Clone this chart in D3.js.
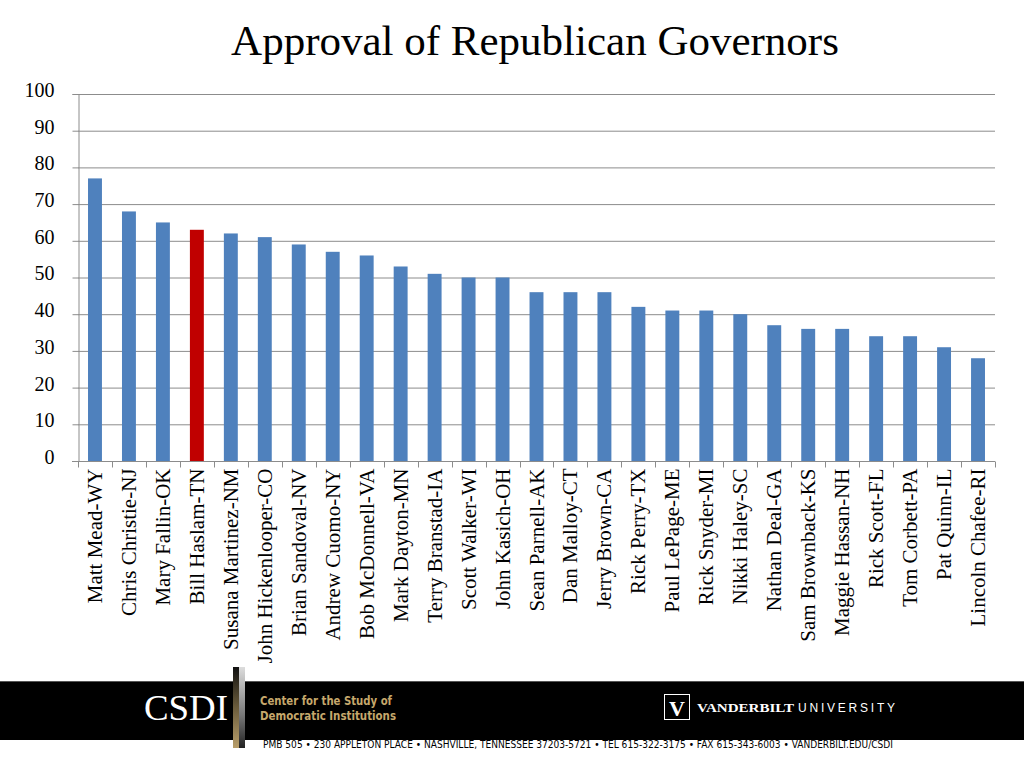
<!DOCTYPE html>
<html><head><meta charset="utf-8">
<script src="https://cdn.jsdelivr.net/npm/d3@7"></script>
<style>body{margin:0;background:#fff}svg{display:block}</style>
</head><body>
<svg id="c" width="1024" height="768"></svg>
<script>
const governors = ["Matt Mead-WY","Chris Christie-NJ","Mary Fallin-OK","Bill Haslam-TN","Susana Martinez-NM","John Hickenlooper-CO","Brian Sandoval-NV","Andrew Cuomo-NY","Bob McDonnell-VA","Mark Dayton-MN","Terry Branstad-IA","Scott Walker-WI","John Kasich-OH","Sean Parnell-AK","Dan Malloy-CT","Jerry Brown-CA","Rick Perry-TX","Paul LePage-ME","Rick Snyder-MI","Nikki Haley-SC","Nathan Deal-GA","Sam Brownback-KS","Maggie Hassan-NH","Rick Scott-FL","Tom Corbett-PA","Pat Quinn-IL","Lincoln Chafee-RI"];
const approval = [77,68,65,63,62,61,59,57,56,53,51,50,50,46,46,46,42,41,41,40,37,36,36,34,34,31,28];
const highlighted = ["Bill Haslam-TN"];
const yTicks = [0,10,20,30,40,50,60,70,80,90,100];
const title = "Approval of Republican Governors";

const svg = d3.select("#c");
const L = 78, R = 995, T = 94, B = 461;
const x = d3.scaleBand().domain(governors).range([L, R]).paddingInner(0.59).paddingOuter(0.295);
const y = d3.scaleLinear().domain([0, 100]).range([B, T]);
const serif = "'Liberation Serif','Times New Roman',serif";

svg.append("text").attr("x", 535).attr("y", 55).attr("text-anchor", "middle")
  .style("font-family", serif).style("font-size", "43px").attr("fill", "#000").text(title);

// gridlines
svg.append("g").selectAll("line").data(yTicks.filter(d => d > 0)).join("line")
  .attr("x1", L).attr("x2", R).attr("y1", d => y(d) + 0.5).attr("y2", d => y(d) + 0.5)
  .attr("stroke", "#8c8c8c").attr("stroke-width", 1);

// y axis
const ya = svg.append("g").attr("transform", `translate(${L + 0.5},0)`)
  .call(d3.axisLeft(y).tickValues(yTicks).tickSize(6).tickPadding(18));
ya.attr("font-family", serif).attr("font-size", 20);
ya.select(".domain").attr("stroke", "#8c8c8c");
ya.selectAll(".tick line").attr("stroke", "#8c8c8c");
ya.selectAll(".tick text").style("font-family", serif).style("font-size", "20px").attr("fill", "#000").attr("dy", "0.12em");
ya.selectAll(".tick").attr("transform", d => `translate(0,${y(d) + 0.5})`);

// bars
svg.append("g").selectAll("rect").data(governors).join("rect")
  .attr("x", d => x(d)).attr("width", x.bandwidth())
  .attr("y", (d, i) => y(approval[i])).attr("height", (d, i) => B - y(approval[i]))
  .attr("fill", d => highlighted.includes(d) ? "#c00000" : "#4f81bd");

// x axis
const step = x.step();
const xa = svg.append("g").attr("transform", `translate(0,${B + 0.5})`);
xa.append("line").attr("x1", L - 6).attr("x2", R).attr("stroke", "#8c8c8c");
const bounds = d3.range(governors.length + 1).map(i => L + i * step);
xa.selectAll("line.tk").data(bounds).join("line").attr("class", "tk")
  .attr("x1", d => Math.round(d) + 0.5).attr("x2", d => Math.round(d) + 0.5).attr("y1", 0).attr("y2", 6)
  .attr("stroke", "#8c8c8c");
xa.selectAll("text").data(governors).join("text")
  .attr("transform", d => `translate(${x(d) + x.bandwidth() / 2 + 7},7) rotate(-90)`)
  .attr("text-anchor", "end").style("font-family", serif).style("font-size", "21px").attr("fill", "#000")
  .text(d => d);

// footer
const f = svg.append("g");
f.append("rect").attr("x", 0).attr("y", 681).attr("width", 1024).attr("height", 59).attr("fill", "#000");
f.append("line").attr("x1", 0).attr("x2", 1024).attr("y1", 681.5).attr("y2", 681.5).attr("stroke", "#555");
const defs = svg.append("defs");
const g1 = defs.append("linearGradient").attr("id", "gold").attr("x1", 0).attr("x2", 0).attr("y1", 0).attr("y2", 1);
g1.append("stop").attr("offset", "0").attr("stop-color", "#111");
g1.append("stop").attr("offset", "0.5").attr("stop-color", "#6b5c3c");
g1.append("stop").attr("offset", "1").attr("stop-color", "#b89e6a");
const g2 = defs.append("linearGradient").attr("id", "silver").attr("x1", 0).attr("x2", 0).attr("y1", 0).attr("y2", 1);
g2.append("stop").attr("offset", "0").attr("stop-color", "#ddd");
g2.append("stop").attr("offset", "0.6").attr("stop-color", "#777");
g2.append("stop").attr("offset", "1").attr("stop-color", "#222");
f.append("rect").attr("x", 233).attr("y", 667).attr("width", 6).attr("height", 81).attr("fill", "url(#gold)");
f.append("rect").attr("x", 239).attr("y", 667).attr("width", 6).attr("height", 81).attr("fill", "url(#silver)");
f.append("text").attr("x", 228).attr("y", 720).attr("text-anchor", "end").style("font-family", serif)
  .style("font-size", "36px").attr("fill", "#fff").attr("textLength", 84).attr("lengthAdjust", "spacingAndGlyphs").text("CSDI");
const cond = "'Liberation Sans Narrow','DejaVu Sans Condensed','Liberation Sans',sans-serif";
f.append("text").attr("x", 260).attr("y", 705).style("font-family", cond).attr("font-weight", "bold")
  .style("font-size", "13px").attr("fill", "#c6a86c").attr("textLength", 132).attr("lengthAdjust", "spacingAndGlyphs").text("Center for the Study of");
f.append("text").attr("x", 260).attr("y", 720).style("font-family", cond).attr("font-weight", "bold")
  .style("font-size", "13px").attr("fill", "#c6a86c").attr("textLength", 136).attr("lengthAdjust", "spacingAndGlyphs").text("Democratic Institutions");
f.append("rect").attr("x", 664.5).attr("y", 694.5).attr("width", 25).attr("height", 25).attr("fill", "none").attr("stroke", "#fff");
f.append("text").attr("x", 677).attr("y", 716).attr("text-anchor", "middle").style("font-family", serif)
  .attr("font-weight", "bold").style("font-size", "22px").attr("fill", "#fff").text("V");
f.append("text").attr("x", 697).attr("y", 712).style("font-family", serif).attr("font-weight", "bold")
  .style("font-size", "13px").attr("fill", "#fff").attr("textLength", 97).attr("lengthAdjust", "spacingAndGlyphs").text("VANDERBILT");
f.append("text").attr("x", 798).attr("y", 712).style("font-family", "'Liberation Sans',sans-serif")
  .style("font-size", "12px").attr("fill", "#fff").attr("textLength", 97).text("UNIVERSITY");
f.append("text").attr("x", 263).attr("y", 748).style("font-family", cond).style("font-size", "11px").attr("fill", "#000")
  .attr("textLength", 630).attr("lengthAdjust", "spacingAndGlyphs").text("PMB 505 • 230 APPLETON PLACE • NASHVILLE, TENNESSEE 37203-5721 • TEL 615-322-3175 • FAX 615-343-6003 • VANDERBILT.EDU/CSDI");
</script>
</body></html>
